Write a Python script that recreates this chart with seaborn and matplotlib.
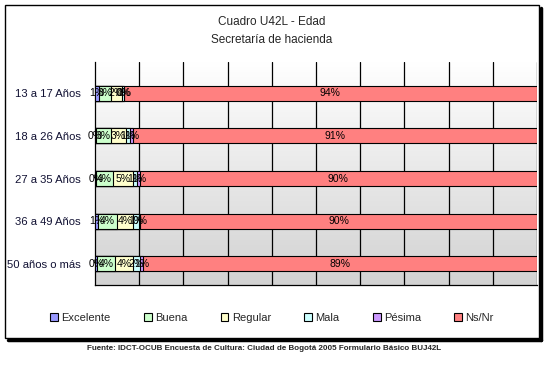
import numpy as np
import pandas as pd
import matplotlib
matplotlib.use("Agg")
import matplotlib.pyplot as plt
import matplotlib.patches as mpatches
import seaborn as sns

# datos (porcentajes)
grupos = ["13 a 17 Años", "18 a 26 Años", "27 a 35 Años", "36 a 49 Años", "50 años o más"]
series = ["Excelente", "Buena", "Regular", "Mala", "Pésima", "Ns/Nr"]
excelente = [1.0, 0.2, 0.3, 0.6, 0.4]
buena = [2.6, 3.4, 3.8, 4.3, 4.2]
regular = [2.5, 3.4, 4.6, 3.7, 4.0]
mala = [0.4, 1.0, 0.8, 1.4, 1.5]
pesima = [0.0, 0.6, 0.6, 0.2, 0.8]
nsnr = [93.5, 91.4, 89.9, 89.8, 89.1]
colores = ["#9999FF", "#CCFFCC", "#FFFFCC", "#CCFFFF", "#CC99FF", "#FF8080"]

df = pd.DataFrame({"grupo": grupos, "Excelente": excelente, "Buena": buena,
                   "Regular": regular, "Mala": mala, "Pésima": pesima, "Ns/Nr": nsnr})
acum = df[series].cumsum(axis=1)

sns.set_style("white")
plt.rcParams["font.family"] = ["Liberation Sans", "DejaVu Sans"]

fig = plt.figure(figsize=(5.49, 3.68), dpi=100)
ax = fig.add_axes([95 / 549, 1 - 285 / 368, 442 / 549, 223 / 368])
y_arriba = -0.5 - 10 / 42.5

# fondo degradado
grad = np.linspace(0, 1, 256).reshape(-1, 1)
ax.imshow(grad, extent=[0, 100, 4.5, y_arriba], aspect="auto",
          cmap=matplotlib.colors.LinearSegmentedColormap.from_list("g", ["#ffffff", "#d2d2d2"]),
          zorder=0)

# barras apiladas: se dibuja del acumulado mayor al menor
for i in range(len(series) - 1, -1, -1):
    tmp = pd.DataFrame({"grupo": grupos, "v": acum[series[i]]})
    sns.barplot(data=tmp, x="v", y="grupo", orient="h", color=colores[i],
                saturation=1, width=0.35, edgecolor="black", linewidth=0.8,
                ax=ax, zorder=3)

# etiquetas
for r in range(len(grupos)):
    izq = 0
    for s in series:
        v = df.loc[r, s]
        ax.text(izq + v / 2, r, f"{v:.0f}%", ha="center", va="center",
                fontsize=7.5, color="black", zorder=5)
        izq += v

ax.set_xlim(0, 100)
ax.set_ylim(4.5, y_arriba)
for x in range(10, 101, 10):
    ax.axvline(x, color="black", lw=0.9, zorder=2)
ax.set_xticks([])
ax.set_yticks(range(len(grupos)))
ax.set_yticklabels(grupos, fontsize=8.1, color="#111133")
ax.tick_params(axis="y", which="major", length=0, pad=10)
ax.set_yticks(np.arange(-0.5, 5, 1), minor=True)
ax.tick_params(axis="y", which="minor", length=4, color="black", width=0.9, direction="out")
ax.set_xlabel("")
ax.set_ylabel("")
for lado in ["top", "right"]:
    ax.spines[lado].set_visible(False)
for lado in ["left", "bottom"]:
    ax.spines[lado].set_color("black")
    ax.spines[lado].set_linewidth(0.9)

# titulo
fig.text(272 / 549, 1 - 22 / 368, "Cuadro U42L - Edad", ha="center", va="center", fontsize=8.5)
fig.text(272 / 549, 1 - 40 / 368, "Secretaría de hacienda", ha="center", va="center", fontsize=8.5)

# leyenda
handles = [mpatches.Patch(facecolor=c, edgecolor="black", lw=0.8, label=s)
           for s, c in zip(series, colores)]
fig.legend(handles=handles, loc="center", bbox_to_anchor=(272 / 549, 1 - 318 / 368),
           ncol=6, frameon=False, fontsize=8, handlelength=0.7, handleheight=0.7,
           handletextpad=0.3, columnspacing=3.0)

# marco con sombra
x0, x1 = 5 / 549, 539 / 549
y0, y1 = 1 - 338 / 368, 1 - 5 / 368
fig.add_artist(mpatches.Rectangle((x0, y0), x1 - x0, y1 - y0, transform=fig.transFigure,
                                  fill=False, edgecolor="black", lw=1))
fig.add_artist(plt.Line2D([x1 + 1.5 / 549, x1 + 1.5 / 549], [y0 - 1.5 / 368, y1 - 3 / 368],
                          transform=fig.transFigure, color="black", lw=2.5))
fig.add_artist(plt.Line2D([x0 + 3 / 549, x1 + 1.5 / 549], [y0 - 1.5 / 368, y0 - 1.5 / 368],
                          transform=fig.transFigure, color="black", lw=2.5))

fig.text(264 / 549, 1 - 349 / 368,
         "Fuente: IDCT-OCUB Encuesta de Cultura: Ciudad de Bogotá 2005 Formulario Básico BUJ42L",
         ha="center", va="center", fontsize=5.8, fontweight="bold")

fig.savefig("out.png", dpi=100)
